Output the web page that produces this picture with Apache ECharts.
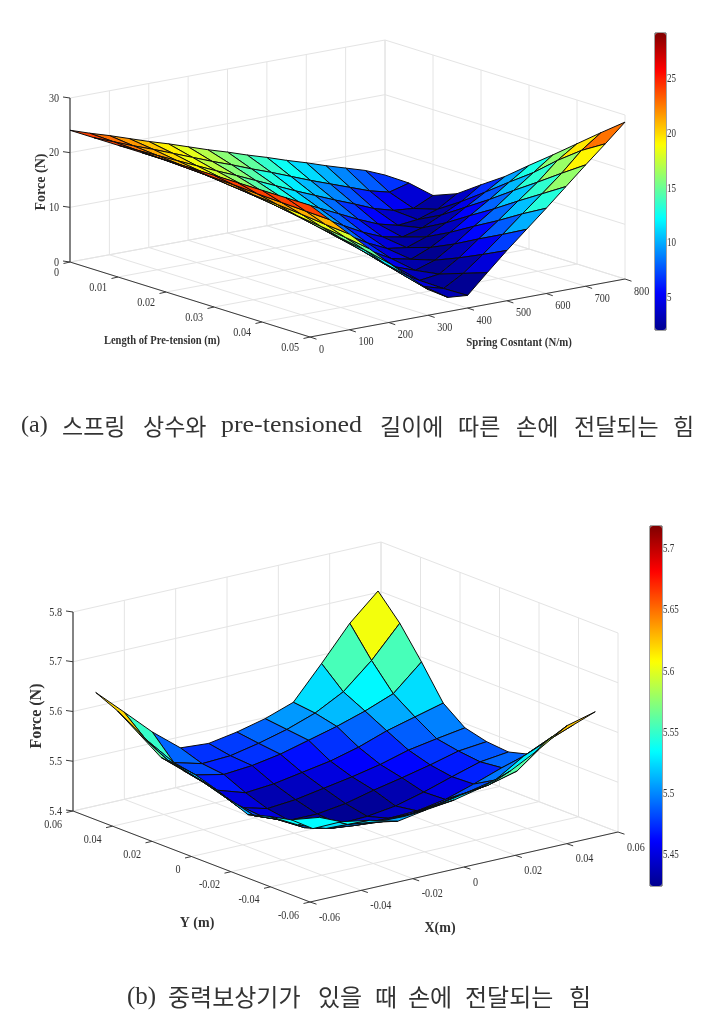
<!DOCTYPE html>
<html>
<head>
<meta charset="utf-8">
<style>html,body{margin:0;padding:0;background:#fff}#chart{width:723px;height:1021px}</style>
<script src="https://cdn.jsdelivr.net/npm/echarts@6/dist/echarts.min.js"></script>
</head>
<body>
<div id="chart"></div>
<script>
// surface (a): rows = pre-tension length, columns = spring constant
var springK = [0,50,100,150,200,250,300,350,400,450,500,550,600,650,700,750,800];
var preLen = [0,0.005,0.01,0.015,0.02,0.025,0.03,0.035,0.04,0.045,0.05];
var forceA = [
  [24.1,22.9,21.8,20.6,19.4,18.3,17.1,15.9,14.8,13.6,12.5,11.3,10.2,9.0,7.9,6.8,5.3],
  [24.1,22.7,21.3,20.0,18.6,17.2,15.8,14.5,13.1,11.8,10.4,9.0,7.7,6.4,5.1,4.2,5.2],
  [24.1,22.5,20.9,19.3,17.7,16.1,14.6,13.0,11.4,9.8,8.3,6.8,5.4,3.9,2.9,2.6,4.3],
  [24.1,22.3,20.5,18.7,16.9,15.1,13.3,11.5,9.7,8.0,6.3,4.6,3.1,2.2,2.6,3.8,6.0],
  [24.1,22.1,20.1,18.0,16.0,14.0,12.0,10.1,8.1,6.2,4.3,2.8,2.1,3.1,4.8,6.6,9.0],
  [24.1,21.9,19.6,17.4,15.2,13.0,10.8,8.6,6.5,4.4,2.7,2.2,3.5,5.4,7.6,9.7,11.9],
  [24.1,21.7,19.2,16.8,14.4,12.0,9.5,7.2,4.9,2.9,2.1,3.6,5.7,8.1,10.4,12.9,15.3],
  [24.1,21.4,18.8,16.1,13.5,10.9,8.4,5.8,3.4,2.1,3.3,5.6,8.2,10.7,13.4,16.0,18.6],
  [24.1,21.2,18.4,15.5,12.7,9.9,7.1,4.4,2.3,2.8,5.1,7.9,10.6,13.5,16.3,19.6,22.0],
  [24.1,21.0,17.9,14.9,11.9,8.8,5.9,3.2,2.2,4.3,7.1,10.1,13.2,16.2,19.3,22.8,25.4],
  [24.1,20.8,17.5,14.2,10.9,7.8,4.7,2.6,2.3,5.8,9.2,12.4,15.6,18.9,22.2,25.4,28.7]
];
// surface (b): rows = Y, columns = X
var posX = [-0.055,-0.044,-0.033,-0.022,-0.011,0,0.011,0.022,0.033,0.044,0.055];
var posY = [-0.055,-0.044,-0.033,-0.022,-0.011,0,0.011,0.022,0.033,0.044,0.055];
var forceB = [
  [5.534,5.535,5.525,5.51,5.52,5.527,5.54,5.56,5.59,5.625,5.64],
  [5.535,5.527,5.50,5.492,5.49,5.496,5.507,5.515,5.53,5.575,5.597],
  [5.525,5.495,5.475,5.468,5.463,5.465,5.473,5.483,5.495,5.53,5.556],
  [5.512,5.49,5.46,5.446,5.442,5.44,5.442,5.452,5.47,5.49,5.504],
  [5.53,5.48,5.458,5.43,5.425,5.427,5.435,5.45,5.468,5.485,5.492],
  [5.542,5.49,5.45,5.428,5.428,5.436,5.45,5.462,5.475,5.49,5.496],
  [5.551,5.505,5.45,5.435,5.44,5.45,5.46,5.472,5.488,5.498,5.507],
  [5.56,5.515,5.468,5.45,5.455,5.465,5.475,5.49,5.51,5.525,5.54],
  [5.59,5.525,5.482,5.47,5.475,5.485,5.5,5.515,5.533,5.555,5.606],
  [5.62,5.55,5.49,5.475,5.478,5.49,5.505,5.525,5.555,5.605,5.667],
  [5.64,5.588,5.535,5.49,5.486,5.496,5.51,5.53,5.595,5.663,5.715]
];
// tick labels
var kTicks = [0,100,200,300,400,500,600,700,800];
var lenTicks = [0,0.01,0.02,0.03,0.04,0.05];
var forceTicksA = [0,10,20,30];
var barTicksA = [5,10,15,20,25];
var xyTicks = [-0.06,-0.04,-0.02,0,0.02,0.04,0.06];
var forceTicksB = [5.4,5.5,5.6,5.7,5.8];
var barTicksB = [5.45,5.5,5.55,5.6,5.65,5.7];
// captions, word by word because the original is set justified
var captionA = ['(a)','스프링','상수와','pre-tensioned','길이에','따른','손에','전달되는','힘'];
var captionB = ['(b)','중력보상기가','있을','때','손에','전달되는','힘'];

var jet = ['#00008f','#0000ff','#0080ff','#00ffff','#80ff80','#ffff00','#ff8000','#ff0000','#800000'];
var serif = '"Liberation Serif","Times New Roman",serif';
var hangul = '"Noto Sans CJK KR"';

// oblique view of each box. a runs along the right-hand floor edge, b along the left-hand one
var panelA = {
  o: [310,337], da: [315,-58], db: [-240,-75], dz: 164,
  amin: 0, amax: 800, bmin: 0.05, bmax: 0, zmin: 0, zmax: 30,
  aTicks: kTicks, bTicks: lenTicks, zTicks: forceTicksA, barTicks: barTicksA,
  aOff: [9,12], bOff: [-11,10], zOff: -11,
  titles: [
    {t:'Force (N)', x:41, y:182, r:Math.PI/2, f:'bold 14px '+serif},
    {t:'Length of Pre-tension (m)', x:162, y:341, f:'bold 12px '+serif, s:0.88},
    {t:'Spring Cosntant (N/m)', x:519, y:343, f:'bold 12px '+serif, s:0.9}
  ],
  bar: {x:655, y:33, w:11, h:297, min:2.07, max:29.2, lx:667}
};
var panelB = {
  o: [310,902], da: [308,-70], db: [-237,-91], dz: 199,
  amin: -0.06, amax: 0.06, bmin: -0.06, bmax: 0.06, zmin: 5.4, zmax: 5.8,
  aTicks: xyTicks, bTicks: xyTicks, zTicks: forceTicksB, barTicks: barTicksB,
  aOff: [9,15], bOff: [-11,13], zOff: -11,
  titles: [
    {t:'Force (N)', x:37, y:716, r:Math.PI/2, f:'bold 16px '+serif},
    {t:'Y (m)', x:197, y:923, f:'bold 14px '+serif},
    {t:'X(m)', x:440, y:928, f:'bold 14px '+serif}
  ],
  bar: {x:650, y:526, w:12, h:360, min:5.424, max:5.719, lx:663}
};

function project(p, a, b, z) {
  var ta = (a - p.amin) / (p.amax - p.amin);
  var tb = (b - p.bmin) / (p.bmax - p.bmin);
  var tz = (z - p.zmin) / (p.zmax - p.zmin);
  return [p.o[0] + ta*p.da[0] + tb*p.db[0], p.o[1] + ta*p.da[1] + tb*p.db[1] - tz*p.dz];
}

function segment(api, p1, p2, color, w) {
  var c1 = api.coord(p1), c2 = api.coord(p2);
  return {type:'line', shape:{x1:c1[0],y1:c1[1],x2:c2[0],y2:c2[1]}, style:{stroke:color, lineWidth:w}};
}
function label(api, txt, pos, font, align, rot, sx) {
  var c = api.coord(pos);
  return {type:'text', x:c[0], y:c[1], rotation:rot||0, scaleX:sx||1,
    style:{text:String(txt), x:0, y:0, font:font, fill:'#333', align:align||'center', verticalAlign:'middle'}};
}

// walls, floor, axes and labels of one panel
function frameRenderer(p) {
  return function (params, api) {
    var kids = [], grid = '#e4e4e4', axis = '#3a3a3a';
    p.aTicks.forEach(function (a) {
      kids.push(segment(api, project(p,a,p.bmin,p.zmin), project(p,a,p.bmax,p.zmin), grid, 1));
      kids.push(segment(api, project(p,a,p.bmax,p.zmin), project(p,a,p.bmax,p.zmax), grid, 1));
    });
    p.bTicks.forEach(function (b) {
      kids.push(segment(api, project(p,p.amin,b,p.zmin), project(p,p.amax,b,p.zmin), grid, 1));
      kids.push(segment(api, project(p,p.amax,b,p.zmin), project(p,p.amax,b,p.zmax), grid, 1));
    });
    p.zTicks.forEach(function (z) {
      kids.push(segment(api, project(p,p.amin,p.bmax,z), project(p,p.amax,p.bmax,z), grid, 1));
      kids.push(segment(api, project(p,p.amax,p.bmax,z), project(p,p.amax,p.bmin,z), grid, 1));
    });
    // axis lines
    kids.push(segment(api, project(p,p.amin,p.bmin,p.zmin), project(p,p.amax,p.bmin,p.zmin), axis, 1));
    kids.push(segment(api, project(p,p.amin,p.bmin,p.zmin), project(p,p.amin,p.bmax,p.zmin), axis, 1));
    kids.push(segment(api, project(p,p.amin,p.bmax,p.zmin), project(p,p.amin,p.bmax,p.zmax), axis, 1.2));
    var tickFont = '13.5px ' + serif;
    p.aTicks.forEach(function (a) {
      var s = project(p,a,p.bmin,p.zmin);
      kids.push(segment(api, s, [s[0]+6.5, s[1]+2.2], axis, 1));
      kids.push(label(api, a, [s[0]+p.aOff[0], s[1]+p.aOff[1]], tickFont, 'left', 0, 0.75));
    });
    p.bTicks.forEach(function (b) {
      var s = project(p,p.amin,b,p.zmin);
      kids.push(segment(api, s, [s[0]-6.5, s[1]+1.5], axis, 1));
      kids.push(label(api, b, [s[0]+p.bOff[0], s[1]+p.bOff[1]], tickFont, 'right', 0, 0.75));
    });
    p.zTicks.forEach(function (z) {
      var s = project(p,p.amin,p.bmax,z);
      kids.push(segment(api, s, [s[0]-7, s[1]-1], axis, 1));
      kids.push(label(api, z, [s[0]+p.zOff, s[1]], tickFont, 'right', 0, 0.75));
    });
    p.titles.forEach(function (t) {
      kids.push(label(api, t.t, [t.x, t.y], t.f, 'center', t.r, t.s));
    });
    // colour bar outline and its labels
    var bar = p.bar;
    var tl = api.coord([bar.x, bar.y]);
    kids.push({type:'rect', shape:{x:tl[0], y:tl[1], width:bar.w, height:bar.h}, style:{fill:'none', stroke:'#444', lineWidth:1}});
    p.barTicks.forEach(function (v) {
      var y = bar.y + bar.h * (bar.max - v) / (bar.max - bar.min);
      kids.push(label(api, v, [bar.lx, y], '12.5px ' + serif, 'left', 0, 0.72));
    });
    return {type:'group', children:kids};
  };
}

// one data row per cell, far cells first so nearer ones paint over them
function cellsA() {
  var out = [];
  for (var i = 0; i < preLen.length - 1; i++) {
    for (var j = springK.length - 2; j >= 0; j--) out.push([j, i, forceA[i][j]]);
  }
  return out;
}
function cellsB() {
  var out = [];
  for (var i = posY.length - 2; i >= 0; i--) {
    for (var j = posX.length - 2; j >= 0; j--) out.push([j, i, forceB[i][j]]);
  }
  return out;
}
function surfaceRenderer(p, as, bs, zs) {
  return function (params, api) {
    var j = api.value(0), i = api.value(1);
    var pts = [[i,j],[i,j+1],[i+1,j+1],[i+1,j]].map(function (c) {
      return api.coord(project(p, as[c[1]], bs[c[0]], zs[c[0]][c[1]]));
    });
    return {type:'polygon', shape:{points:pts}, style:{fill:api.visual('color'), stroke:'#0c0c0c', lineWidth:1, lineJoin:'round'}};
  };
}
function frameSeries(p) {
  return {type:'custom', coordinateSystem:'cartesian2d', silent:true, clip:false, z:1,
    data:[[0,0]], renderItem:frameRenderer(p)};
}
function surfaceSeries(p, data, as, bs, zs) {
  return {type:'custom', coordinateSystem:'cartesian2d', silent:true, clip:false, z:2, progressive:0,
    dimensions:['col','row','force'], encode:{x:0,y:1}, data:data, renderItem:surfaceRenderer(p, as, bs, zs)};
}
function colorBar(p, seriesIndex) {
  return {type:'continuous', seriesIndex:seriesIndex, dimension:2, min:p.bar.min, max:p.bar.max,
    left:p.bar.x, top:p.bar.y, itemWidth:p.bar.w, itemHeight:p.bar.h, padding:0, calculable:false,
    hoverLink:false, showLabel:false, inRange:{color:jet}};
}
// left edge of each caption word
var captionAX = [21,62,143,221,380,458,516,574,673];
var captionBX = [127,168,318,375,408,465,569];
function captionWords(words, xs, y, size) {
  return words.map(function (w, i) {
    var latin = /^[(a-z]/.test(w);
    return {type:'text', x:xs[i], y:y, silent:true, scaleX: w.length > 5 && latin ? 1.08 : 1,
      style:{text:w, fill:'#333', font: latin ? (size+1)+'px '+serif : size+'px '+hangul, align:'left', verticalAlign:'middle'}};
  });
}

var myChart = echarts.init(document.getElementById('chart'));
var option = {
  animation: false,
  backgroundColor: '#fff',
  tooltip: {show:false},
  grid: {left:0, top:0, width:723, height:1021},
  xAxis: {type:'value', min:0, max:723, show:false},
  yAxis: {type:'value', min:0, max:1021, inverse:true, show:false},
  visualMap: [colorBar(panelA, 1), colorBar(panelB, 3)],
  graphic: captionWords(captionA, captionAX, 426, 23).concat(captionWords(captionB, captionBX, 997, 24)),
  series: [
    frameSeries(panelA),
    surfaceSeries(panelA, cellsA(), springK, preLen, forceA),
    frameSeries(panelB),
    surfaceSeries(panelB, cellsB(), posX, posY, forceB)
  ]
};
myChart.setOption(option);
</script>
</body>
</html>
